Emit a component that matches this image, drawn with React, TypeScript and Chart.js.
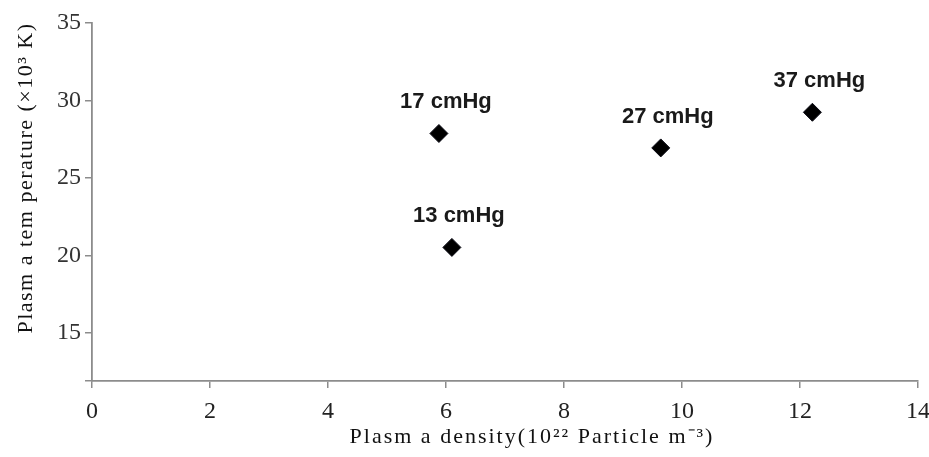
import React, { useEffect, useRef } from "react";
import { Chart, registerables } from "chart.js";

Chart.register(...registerables);

const pressureLabels = ["17 cmHg", "13 cmHg", "27 cmHg", "37 cmHg"];
const densityValues = [5.88, 6.1, 9.64, 12.21];
const temperatureValues = [27.87, 20.52, 26.94, 29.24];
const xTickValues = [0, 2, 4, 6, 8, 10, 12, 14];
const yTickValues = [15, 20, 25, 30, 35];
const yMin = 11.9;

const xTitle = "Plasm a density(10\u00B2\u00B2 Particle m\u207B\u00B3)";
const yTitle = "Plasm a tem perature (\u00D710\u00B3 K)";

const SERIF = "'Liberation Serif', 'Times New Roman', serif";

const labelPlugin = {
  id: "pointLabels",
  afterDatasetsDraw(chart: any) {
    const ctx = chart.ctx;
    const meta = chart.getDatasetMeta(0);
    const area = chart.chartArea;
    ctx.save();
    ctx.font = "bold 22px 'Liberation Sans', Arial, sans-serif";
    ctx.fillStyle = "#1a1a1a";
    ctx.textAlign = "center";
    ctx.textBaseline = "alphabetic";
    meta.data.forEach((el: any, i: number) => {
      ctx.fillText(pressureLabels[i], el.x + 7, el.y - 25);
    });
    ctx.restore();

    // x axis title
    ctx.save();
    ctx.font = "22px " + SERIF;
    (ctx as any).letterSpacing = "2px";
    ctx.fillStyle = "#111";
    ctx.textAlign = "center";
    ctx.textBaseline = "alphabetic";
    ctx.fillText(xTitle, (area.left + area.right) / 2 + 27, 443);
    ctx.restore();

    // y axis title
    ctx.save();
    ctx.font = "22px " + SERIF;
    (ctx as any).letterSpacing = "1.5px";
    ctx.fillStyle = "#111";
    ctx.translate(26, 178);
    ctx.rotate(-Math.PI / 2);
    ctx.textAlign = "center";
    ctx.textBaseline = "middle";
    ctx.fillText(yTitle, 0, 0);
    ctx.restore();
  },
};

export default function App() {
  const ref = useRef<HTMLCanvasElement | null>(null);
  useEffect(() => {
    document.body.style.margin = "0";
    const canvas = ref.current;
    if (!canvas) return;
    const chart = new Chart(canvas, {
      type: "scatter",
      data: {
        datasets: [
          {
            label: "Plasma",
            data: densityValues.map((x, i) => ({ x, y: temperatureValues[i] })),
            pointStyle: "rectRot",
            pointRadius: 9,
            pointHoverRadius: 9,
            backgroundColor: "#000",
            borderColor: "#0a0a14",
            borderWidth: 1,
          },
        ],
      },
      options: {
        animation: false,
        responsive: false,
        maintainAspectRatio: false,
        layout: { padding: { left: 0, top: 23, right: 11, bottom: 0 } },
        plugins: {
          legend: { display: false },
          tooltip: { enabled: false },
        },
        scales: {
          x: {
            type: "linear",
            min: 0,
            max: 14,
            afterBuildTicks: (axis: any) => {
              axis.ticks = xTickValues.map((v) => ({ value: v }));
            },
            afterFit: (axis: any) => {
              axis.height = 76;
              axis.paddingRight = 0;
              axis.paddingLeft = 0;
            },
            ticks: {
              color: "#222",
              font: { family: SERIF, size: 24 },
              padding: 9,
            },
            grid: {
              drawOnChartArea: false,
              drawTicks: true,
              tickLength: 7,
              color: "#8c8c8c",
              lineWidth: 1.5,
            },
            border: { color: "#8c8c8c", width: 1.8 },
          },
          y: {
            type: "linear",
            min: yMin,
            max: 35,
            afterBuildTicks: (axis: any) => {
              axis.ticks = [yMin, ...yTickValues].map((v) => ({ value: v }));
            },
            afterFit: (axis: any) => {
              axis.width = 92;
              axis.paddingTop = 0;
              axis.paddingBottom = 0;
            },
            ticks: {
              color: "#333",
              font: { family: SERIF, size: 24 },
              padding: 4,
              callback: (v: any) => (yTickValues.includes(v) ? String(v) : ""),
            },
            grid: {
              drawOnChartArea: false,
              drawTicks: true,
              tickLength: 7,
              color: "#8c8c8c",
              lineWidth: 1.5,
            },
            border: { color: "#8c8c8c", width: 1.8 },
          },
        },
      },
      plugins: [labelPlugin],
    } as any);
    return () => chart.destroy();
  }, []);
  return (
    <div style={{ width: 929, height: 457, background: "#fff" }}>
      <canvas ref={ref} width={929} height={457} style={{ display: "block", width: 929, height: 457 }} />
    </div>
  );
}
